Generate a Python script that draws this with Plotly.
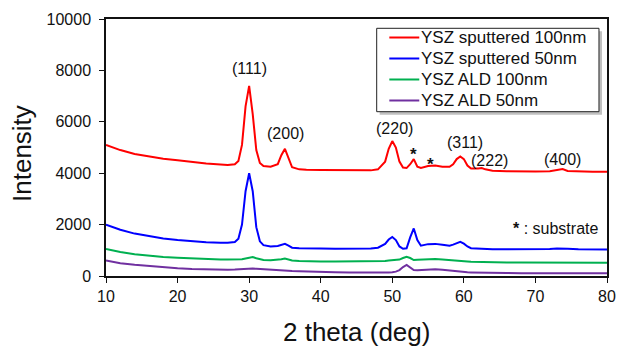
import plotly.graph_objects as go

two_theta = [10, 12, 14, 16, 18, 20, 22, 24, 26, 27, 28, 28.5, 29, 29.5, 30, 30.5, 31, 31.5, 32, 33,
             34, 34.5, 35, 35.5, 36, 37, 38, 40, 42, 44, 46, 47, 48, 49, 49.5, 50, 50.5, 51, 51.5, 52,
             52.5, 53, 53.5, 54, 55, 56, 57, 58, 58.5, 59, 59.5, 60, 60.5, 61, 62, 62.5, 63, 64, 66, 68,
             70, 72, 73, 73.8, 74.5, 76, 78, 80]

sputtered_100 = [5100, 4900, 4750, 4650, 4560, 4500, 4430, 4380, 4340, 4320, 4350, 4480, 5100, 6600, 7400, 6300, 4900, 4400, 4280, 4250,
                 4350, 4700, 4950, 4550, 4230, 4150, 4130, 4120, 4110, 4100, 4100, 4110, 4150, 4450, 4950, 5250, 5000, 4450, 4220, 4200,
                 4350, 4550, 4250, 4200, 4280, 4300, 4250, 4250, 4350, 4550, 4650, 4550, 4300, 4180, 4180, 4200, 4150, 4100, 4080, 4070,
                 4070, 4080, 4110, 4160, 4090, 4070, 4060, 4060]

sputtered_50 = [2000, 1800, 1650, 1540, 1460, 1400, 1350, 1310, 1290, 1290, 1320, 1450, 2000, 3300, 4000, 3300, 1900, 1350, 1200, 1150,
                1170, 1220, 1250, 1180, 1100, 1080, 1070, 1070, 1060, 1060, 1060, 1070, 1100, 1250, 1420, 1520, 1400, 1150, 1060, 1080,
                1500, 1850, 1400, 1180, 1240, 1250, 1220, 1180, 1220, 1290, 1330, 1260, 1150, 1080, 1060, 1060, 1050, 1040, 1040, 1040,
                1040, 1050, 1070, 1080, 1060, 1040, 1040, 1030]

ald_100 = [1050, 930, 850, 790, 740, 710, 680, 660, 640, 640, 640, 640, 650, 680, 720, 740, 690, 650, 620, 610,
           620, 650, 680, 650, 600, 580, 570, 560, 560, 560, 560, 560, 570, 580, 600, 610, 620, 640, 700, 750,
           700, 620, 630, 640, 650, 660, 640, 610, 600, 590, 580, 570, 560, 550, 540, 540, 535, 530, 530, 525,
           525, 525, 525, 525, 525, 520, 520, 520]

ald_50 = [600, 500, 440, 390, 340, 300, 270, 250, 240, 240, 250, 260, 270, 280, 290, 290, 280, 270, 250, 230,
          220, 215, 210, 200, 190, 180, 170, 160, 150, 140, 130, 130, 130, 130, 140, 150, 170, 230, 350, 430,
          330, 230, 220, 230, 250, 260, 240, 210, 190, 170, 160, 150, 145, 140, 130, 130, 125, 120, 115, 110,
          110, 110, 110, 110, 110, 105, 105, 105]

series_names = ["YSZ sputtered 100nm", "YSZ sputtered 50nm", "YSZ ALD 100nm", "YSZ ALD 50nm"]
series_colors = ["#FF0000", "#0000FF", "#00B050", "#7030A0"]
series_values = [sputtered_100, sputtered_50, ald_100, ald_50]

x_ticks = [10, 20, 30, 40, 50, 60, 70, 80]
y_ticks = [0, 2000, 4000, 6000, 8000, 10000]
y_tick_labels = ["0", "2000", "4000", "6000", "8000", "10000"]

peak_labels = ["(111)", "(200)", "(220)", "(311)", "(222)", "(400)"]
peak_x = [30, 35.1, 50.3, 60.1, 63.6, 73.8]
peak_y = [8090, 5550, 5740, 5200, 4490, 4540]

star_x = [53, 55.4]
star_y = [4900, 4510]

FONT = "Arial, Liberation Sans, sans-serif"
INK = "#111"

fig = go.Figure()
for name, color, vals in zip(series_names, series_colors, series_values):
    fig.add_trace(go.Scatter(x=two_theta, y=vals, mode="lines", name=name,
                             line=dict(color=color, width=2), showlegend=False))

for lab, px, py in zip(peak_labels, peak_x, peak_y):
    fig.add_annotation(x=px, y=py, text=lab, showarrow=False,
                       font=dict(family=FONT, size=16, color=INK),
                       xanchor="center", yanchor="middle")

for sx, sy in zip(star_x, star_y):
    fig.add_annotation(x=sx, y=sy, text="<b>*</b>", showarrow=False,
                       font=dict(family=FONT, size=17, color=INK),
                       xanchor="center", yanchor="middle", yshift=-4)

fig.add_annotation(x=79.0, y=1855, text="<b>*</b> : substrate", showarrow=False,
                   font=dict(family=FONT, size=16, color=INK),
                   xanchor="right", yanchor="middle")

# axis titles
fig.add_annotation(xref="paper", yref="paper", x=-0.1677, y=0.4786, text="Intensity",
                   textangle=-90, showarrow=False, xanchor="center", yanchor="middle",
                   font=dict(family=FONT, size=26, color=INK))
fig.add_annotation(xref="paper", yref="paper", x=0.5, y=-0.2179, text="2 theta (deg)",
                   showarrow=False, xanchor="center", yanchor="middle",
                   font=dict(family=FONT, size=26, color=INK))

# legend box (with shadow), drawn in paper coordinates
fig.add_shape(type="rect", xref="paper", yref="paper", x0=0.5463, x1=0.9900, y0=0.6276, y1=0.9521,
              fillcolor="#8c8c8c", opacity=0.55, line=dict(width=0), layer="above")
fig.add_shape(type="rect", xref="paper", yref="paper", x0=0.5403, x1=0.9840, y0=0.6393, y1=0.9638,
              fillcolor="white", line=dict(color="#222", width=1), layer="above")
legend_rows = [0.9280, 0.8463, 0.7646, 0.6829]
for name, color, ly in zip(series_names, series_colors, legend_rows):
    fig.add_shape(type="line", xref="paper", yref="paper", x0=0.5655, x1=0.6253, y0=ly, y1=ly,
                  line=dict(color=color, width=2), layer="above")
    fig.add_annotation(xref="paper", yref="paper", x=0.6240, y=ly, text=name, showarrow=False,
                       xanchor="left", yanchor="middle",
                       font=dict(family=FONT, size=17, color=INK))

fig.update_layout(
    width=630, height=349,
    margin=dict(l=106, r=23, t=19, b=73, autoexpand=False),
    paper_bgcolor="white", plot_bgcolor="white",
    font=dict(family=FONT, color=INK),
    showlegend=False,
    xaxis=dict(range=[10, 80], tickvals=x_ticks, automargin=False,
               ticks="outside", ticklen=5, tickcolor=INK, showgrid=False,
               showline=True, linecolor=INK, linewidth=1.5, mirror=True, zeroline=False,
               tickfont=dict(family=FONT, size=16, color=INK)),
    yaxis=dict(range=[0, 10000], tickvals=y_ticks, ticktext=y_tick_labels, automargin=False,
               ticks="outside", ticklen=5, tickcolor=INK, showgrid=False, ticklabelstandoff=5,
               showline=True, linecolor=INK, linewidth=1.5, mirror=True, zeroline=False,
               tickfont=dict(family=FONT, size=16, color=INK)),
)

fig.write_html("out.html", config={"displayModeBar": False},
               post_script="document.body.style.margin='0';document.body.style.padding='0';")
